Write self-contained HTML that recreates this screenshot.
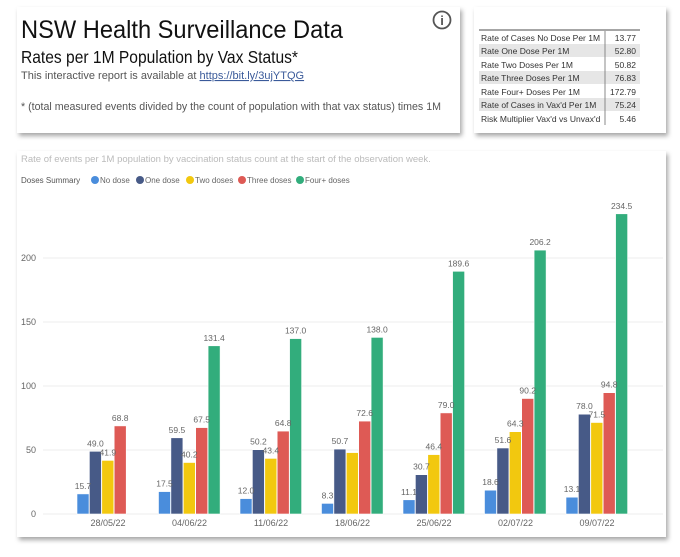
<!DOCTYPE html>
<html><head><meta charset="utf-8"><style>
body{margin:0;background:#fff;width:680px;height:552px;overflow:hidden;font-family:"Liberation Sans",sans-serif}
</style></head><body>
<svg width="680" height="552" xmlns="http://www.w3.org/2000/svg" font-family="Liberation Sans, sans-serif">
<defs><filter id="sh" x="-5%" y="-5%" width="110%" height="115%"><feDropShadow dx="2" dy="3" stdDeviation="2.5" flood-color="#000" flood-opacity="0.35"/></filter></defs>
<rect x="17" y="7" width="443" height="126" fill="#fff" filter="url(#sh)"/>
<rect x="474" y="7" width="192" height="126" fill="#fff" filter="url(#sh)"/>
<rect x="17" y="151" width="649" height="386" fill="#fff" filter="url(#sh)"/>
<text x="21" y="38" font-size="25" fill="#111" textLength="322" lengthAdjust="spacingAndGlyphs">NSW Health Surveillance Data</text>
<text x="21" y="63" font-size="17.5" fill="#111" textLength="277" lengthAdjust="spacingAndGlyphs">Rates per 1M Population by Vax Status*</text>
<text x="21" y="79" font-size="11" fill="#555">This interactive report is available at <tspan fill="#3a5a9a" text-decoration="underline">https://bit.ly/3ujYTQG</tspan></text>
<text x="21" y="110" font-size="11" fill="#555" textLength="420" lengthAdjust="spacingAndGlyphs">* (total measured events divided by the count of population with that vax status) times 1M</text>
<circle cx="442" cy="20" r="8.5" fill="none" stroke="#555" stroke-width="1.8"/>
<text x="442" y="25" font-size="13" text-anchor="middle" fill="#555" font-weight="bold">i</text>
<line x1="479" y1="30" x2="640" y2="30" stroke="#888" stroke-width="1.5"/>
<g font-size="8.5" fill="#333">
<rect x="479" y="44" width="161" height="13" fill="#e6e6e6"/>
<rect x="479" y="71" width="161" height="13" fill="#e6e6e6"/>
<rect x="479" y="98" width="161" height="13" fill="#e6e6e6"/>
<line x1="605" y1="31" x2="605" y2="125" stroke="#888"/>
<text x="481" y="41">Rate of Cases No Dose Per 1M</text><text x="636" y="41" text-anchor="end">13.77</text>
<text x="481" y="54">Rate One Dose Per 1M</text><text x="636" y="54" text-anchor="end">52.80</text>
<text x="481" y="68">Rate Two Doses Per 1M</text><text x="636" y="68" text-anchor="end">50.82</text>
<text x="481" y="81">Rate Three Doses Per 1M</text><text x="636" y="81" text-anchor="end">76.83</text>
<text x="481" y="95">Rate Four+ Doses Per 1M</text><text x="636" y="95" text-anchor="end">172.79</text>
<text x="481" y="108">Rate of Cases in Vax'd Per 1M</text><text x="636" y="108" text-anchor="end">75.24</text>
<text x="481" y="122">Risk Multiplier Vax'd vs Unvax'd</text><text x="636" y="122" text-anchor="end">5.46</text>
</g>
<text x="21" y="162" font-size="9.5" fill="#bbb">Rate of events per 1M population by vaccination status count at the start of the observation week.</text>
<g font-size="8">
<text x="21" y="183" fill="#555">Doses Summary</text>
<circle cx="95" cy="180" r="4" fill="#4a8ddc"/><text x="100" y="183" fill="#666">No dose</text>
<circle cx="140" cy="180" r="4" fill="#475a87"/><text x="145" y="183" fill="#666">One dose</text>
<circle cx="190" cy="180" r="4" fill="#f2c80f"/><text x="195" y="183" fill="#666">Two doses</text>
<circle cx="242" cy="180" r="4" fill="#de5a55"/><text x="247" y="183" fill="#666">Three doses</text>
<circle cx="300" cy="180" r="4" fill="#32ad7c"/><text x="305" y="183" fill="#666">Four+ doses</text>
</g>
<g stroke="#eee" stroke-width="1">
<line x1="43" y1="514" x2="663" y2="514"/><line x1="43" y1="450" x2="663" y2="450"/>
<line x1="43" y1="386" x2="663" y2="386"/><line x1="43" y1="322" x2="663" y2="322"/>
<line x1="43" y1="258" x2="663" y2="258"/>
</g>
<g font-size="9" fill="#666" text-anchor="end">
<text x="36" y="517">0</text><text x="36" y="453">50</text><text x="36" y="389">100</text><text x="36" y="325">150</text><text x="36" y="261">200</text>
</g>
<g stroke="#fff" stroke-width="0.6">
<g fill="#4a8ddc">
<rect x="77" y="493.9" width="12" height="20.1"/><rect x="158.5" y="491.6" width="12" height="22.4"/><rect x="240" y="498.6" width="12" height="15.4"/><rect x="321.5" y="503.4" width="12" height="10.6"/><rect x="403" y="499.8" width="12" height="14.2"/><rect x="484.5" y="490.2" width="12" height="23.8"/><rect x="566" y="497.2" width="12" height="16.8"/>
</g>
<g fill="#475a87">
<rect x="89.4" y="451.3" width="12" height="62.7"/><rect x="170.9" y="437.8" width="12" height="76.2"/><rect x="252.4" y="449.7" width="12" height="64.3"/><rect x="333.9" y="449.1" width="12" height="64.9"/><rect x="415.4" y="474.7" width="12" height="39.3"/><rect x="496.9" y="448" width="12" height="66"/><rect x="578.4" y="414.2" width="12" height="99.8"/>
</g>
<g fill="#f2c80f">
<rect x="101.8" y="460.4" width="12" height="53.6"/><rect x="183.3" y="462.5" width="12" height="51.5"/><rect x="264.8" y="458.4" width="12" height="55.6"/><rect x="346.3" y="452.6" width="12" height="61.4"/><rect x="427.8" y="454.6" width="12" height="59.4"/><rect x="509.3" y="431.7" width="12" height="82.3"/><rect x="590.8" y="422.5" width="12" height="91.5"/>
</g>
<g fill="#de5a55">
<rect x="114.2" y="425.9" width="12" height="88.1"/><rect x="195.7" y="427.6" width="12" height="86.4"/><rect x="277.2" y="431.1" width="12" height="82.9"/><rect x="358.7" y="421.1" width="12" height="92.9"/><rect x="440.2" y="412.9" width="12" height="101.1"/><rect x="521.7" y="398.5" width="12" height="115.5"/><rect x="603.2" y="392.7" width="12" height="121.3"/>
</g>
<g fill="#32ad7c">
<rect x="208.1" y="345.8" width="12" height="168.2"/><rect x="289.6" y="338.6" width="12" height="175.4"/><rect x="371.1" y="337.4" width="12" height="176.6"/><rect x="452.6" y="271.3" width="12" height="242.7"/><rect x="534.1" y="250.1" width="12" height="263.9"/><rect x="615.6" y="213.8" width="12" height="300.2"/>
</g>
</g>
<g font-size="8.5" fill="#666" text-anchor="middle">
<text x="83" y="488.9">15.7</text><text x="95.4" y="446.3">49.0</text><text x="107.8" y="455.4">41.9</text><text x="120.2" y="420.9">68.8</text>
<text x="164.5" y="486.6">17.5</text><text x="176.9" y="432.8">59.5</text><text x="189.3" y="457.5">40.2</text><text x="201.7" y="422.6">67.5</text><text x="214.1" y="340.8">131.4</text>
<text x="246" y="493.6">12.0</text><text x="258.4" y="444.7">50.2</text><text x="270.8" y="453.4">43.4</text><text x="283.2" y="426.1">64.8</text><text x="295.6" y="333.6">137.0</text>
<text x="327.5" y="498.4">8.3</text><text x="339.9" y="444.1">50.7</text><text x="364.7" y="416.1">72.6</text><text x="377.1" y="332.4">138.0</text>
<text x="409" y="494.8">11.1</text><text x="421.4" y="469.7">30.7</text><text x="433.8" y="449.6">46.4</text><text x="446.2" y="407.9">79.0</text><text x="458.6" y="266.3">189.6</text>
<text x="490.5" y="485.2">18.6</text><text x="502.9" y="443">51.6</text><text x="515.3" y="426.7">64.3</text><text x="527.7" y="393.5">90.2</text><text x="540.1" y="245.1">206.2</text>
<text x="572" y="492.2">13.1</text><text x="584.4" y="409.2">78.0</text><text x="596.8" y="417.5">71.5</text><text x="609.2" y="387.7">94.8</text><text x="621.6" y="208.8">234.5</text>
</g>
<g font-size="9" fill="#666" text-anchor="middle">
<text x="108" y="526">28/05/22</text><text x="189.5" y="526">04/06/22</text><text x="271" y="526">11/06/22</text><text x="352.5" y="526">18/06/22</text><text x="434" y="526">25/06/22</text><text x="515.5" y="526">02/07/22</text><text x="597" y="526">09/07/22</text>
</g>
</svg>
</body></html>
